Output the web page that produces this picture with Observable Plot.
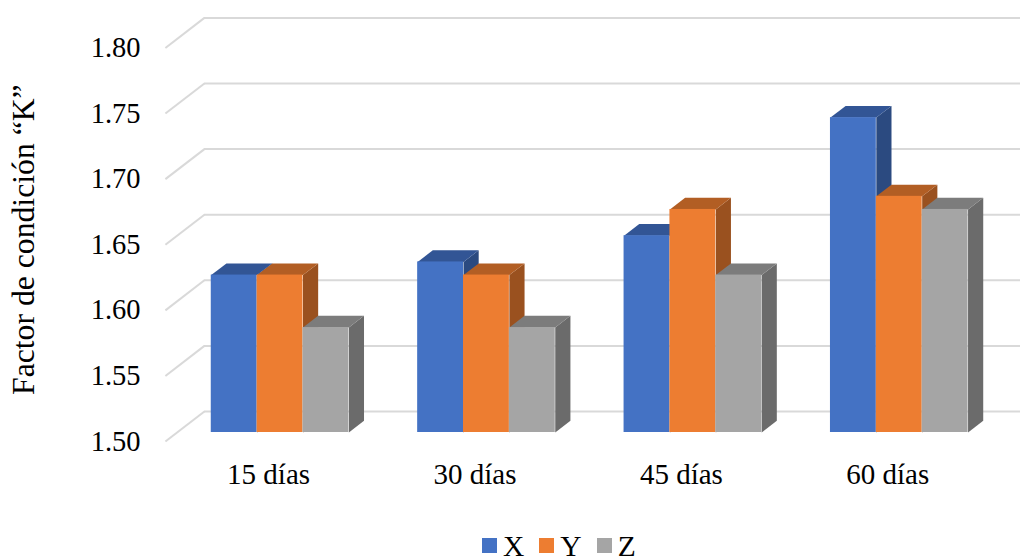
<!DOCTYPE html>
<html lang="es">
<head>
<meta charset="utf-8">
<script src="https://cdn.jsdelivr.net/npm/d3@7"></script>
<script src="https://cdn.jsdelivr.net/npm/@observablehq/plot@0.6"></script>
<style>
  html, body { margin: 0; padding: 0; background: #fff; overflow: hidden; }
  body { width: 1020px; height: 558px; font-family: "Liberation Serif", serif; color: #000; }
  svg { display: block; }
  #legend { display: flex; align-items: center; height: 28px; margin-left: 482px; font-size: 29.5px; line-height: 28px; color: #000; }
  #legend .swatch { width: 15px; height: 15px; margin-right: 6px; margin-top: 3px; }
  #legend .entry { display: flex; align-items: center; margin-right: 15px; }
  #legend span { position: relative; top: 2px; }
</style>
</head>
<body>
<div id="chart"></div>
<div id="legend"></div>
<script>
// Condition factor by sampling day and treatment
const dias = ["15 días", "30 días", "45 días", "60 días"];
const serieX = [1.62, 1.63, 1.65, 1.74];
const serieY = [1.62, 1.62, 1.67, 1.68];
const serieZ = [1.58, 1.58, 1.62, 1.67];
const ticksK = [1.50, 1.55, 1.60, 1.65, 1.70, 1.75, 1.80];

const series = [
  {name: "X", values: serieX, front: "#4472C4", top: "#325595", side: "#2B4A80"},
  {name: "Y", values: serieY, front: "#ED7D31", top: "#B25E24", side: "#9A511F"},
  {name: "Z", values: serieZ, front: "#A5A5A5", top: "#7C7C7C", side: "#6B6B6B"}
];

// Pseudo-3D geometry, expressed in scale units
const barWidth = 0.2222;    // share of one category
const barDepthX = 0.0735;
const barDepthY = 0.0089;
const floorFrontY = -0.0069; // front edge of the floor and walls
const wallBackY = 0.016;     // offset of the back wall
const wallBackX = 0.189;
const wallEndX = 4.2;
const grid = "#D9D9D9";

// Gridlines run along the back wall, with a diagonal on the side wall
const wallMarks = [
  Plot.ruleY(ticksK, {
    y: (d) => d + wallBackY,
    x1: wallBackX,
    x2: wallEndX,
    stroke: grid,
    strokeWidth: 2
  }),
  Plot.link(ticksK, {
    x1: 0,
    y1: (d) => d + floorFrontY,
    x2: wallBackX,
    y2: (d) => d + wallBackY,
    stroke: grid,
    strokeWidth: 2
  })
];

// One box per value, painted left to right so each bar overlaps the previous one
const barMarks = dias.flatMap((dia, i) =>
  series.flatMap((s, k) => {
    const left = i + barWidth * (k + 1);
    const right = left + barWidth;
    const value = s.values[i];
    const base = ticksK[0];
    const sideFace = [
      [right, base],
      [right + barDepthX, base + barDepthY],
      [right + barDepthX, value + barDepthY],
      [right, value]
    ];
    const topFace = [
      [left, value],
      [left + barDepthX, value + barDepthY],
      [right + barDepthX, value + barDepthY],
      [right, value]
    ];
    return [
      Plot.line(sideFace, {x: "0", y: "1", fill: s.side, stroke: "none"}),
      Plot.line(topFace, {x: "0", y: "1", fill: s.top, stroke: "none"}),
      Plot.rect([value], {x1: left, x2: right, y1: base, y2: (d) => d, fill: s.front})
    ];
  })
);

const chart = Plot.plot({
  width: 1020,
  height: 530,
  marginTop: 0,
  marginRight: 0,
  marginBottom: 98,
  marginLeft: 140,
  style: {fontFamily: "Liberation Serif", fontSize: "29px", color: "#000", background: "#fff"},
  x: {domain: [0, 4], range: [164.9, 990.5]},
  y: {domain: [1.5, 1.8], range: [432, 38.4]},
  marks: [
    ...wallMarks,
    ...barMarks,
    Plot.axisY({
      ticks: ticksK,
      tickFormat: ".2f",
      tickSize: 0,
      tickPadding: 0,
      dy: 9,
      label: null,
      fontSize: 28.5
    }),
    Plot.axisX({
      ticks: dias.map((_, i) => i + 0.5),
      tickFormat: (d) => dias[Math.floor(d)],
      tickSize: 0,
      tickPadding: 31,
      label: null,
      fontSize: 29
    }),
    Plot.text(["Factor de condición “K”"], {
      text: (d) => d,
      x: -0.685,
      y: 1.647,
      rotate: -90,
      fontSize: 31.7
    })
  ]
});
document.getElementById("chart").append(chart);

// Series key below the chart
const legend = d3.select("#legend");
series.forEach((s) => {
  const entry = legend.append("div").attr("class", "entry");
  entry.append("div").attr("class", "swatch").style("background", s.front);
  entry.append("span").text(s.name);
});
</script>
</body>
</html>
